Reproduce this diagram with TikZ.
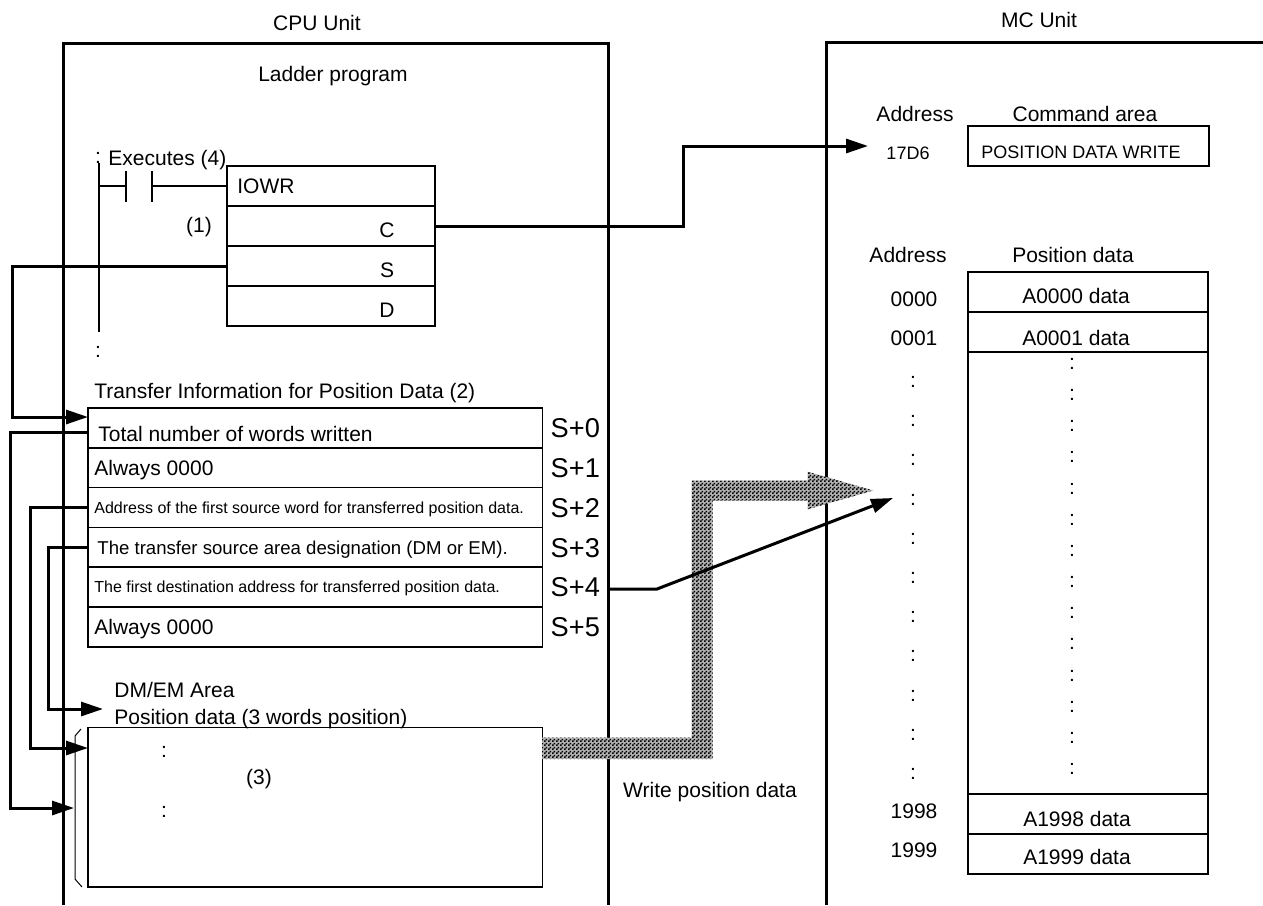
\documentclass[tikz,border=0pt]{standalone}
\usepackage{fontspec}
\setmainfont{Liberation Sans}
\usetikzlibrary{arrows.meta,patterns,positioning,calc}

% dotted grey fill of the transfer arrow
\pgfdeclarepatternformonly{dither}{\pgfpointorigin}{\pgfqpoint{2pt}{2pt}}{\pgfqpoint{2pt}{2pt}}{%
  \pgfpathrectangle{\pgfpointorigin}{\pgfqpoint{1pt}{1pt}}%
  \pgfpathrectangle{\pgfqpoint{1pt}{1pt}}{\pgfqpoint{1pt}{1pt}}%
  \pgfusepath{fill}}

\tikzset{
  unitline/.style={line width=1.5pt},
  wire/.style={line width=1.5pt},
  wirearrow/.style={wire, -{Triangle[length=11pt,width=7pt]}},
  rung/.style={line width=0.7pt},
  cell/.style={draw, line width=0.8pt, inner sep=0pt, outer sep=0pt},
  lbl/.style={inner sep=0pt, text height=7.5pt, text depth=0pt, font=\fontsize{10.5}{12}\selectfont},
  smalllbl/.style={lbl, text height=6.4pt, font=\fontsize{9}{10}\selectfont},
  tinylbl/.style={lbl, text height=5.7pt, font=\fontsize{8}{9}\selectfont},
  midlbl/.style={lbl, text height=6.7pt, font=\fontsize{9.3}{10}\selectfont},
  offlbl/.style={lbl, text height=9.8pt, font=\fontsize{13.6}{15}\selectfont},
}

\begin{document}
\begin{tikzpicture}[x=0.5pt,y=-0.5pt]
  \useasboundingbox (0,0) rectangle (1263,905);

  % Units
  \node[lbl] (cpuname) at (317,23) {CPU Unit};
  \node[lbl] (mcname) at (1039,20) {MC Unit};
  \draw[unitline] (63,905) |- (608,43) -- (608,905);
  \draw[unitline] (826,905) |- (1263,42);

  % Ladder program
  \node[lbl] (ladder) at (333,74) {Ladder program};
  \node[cell, minimum width=104pt, minimum height=20pt, anchor=north west] (io0) at (227,166) {};
  \foreach \i [count=\j from 0] in {1,2,3}
    \node[cell, minimum width=104pt, minimum height=20pt, below=0pt of io\j] (io\i) {};
  \node[lbl, anchor=west] (iowr) at ($(io0.west)+(10,0)$) {IOWR};
  \foreach \i/\t in {1/C,2/S,3/D}
    \node[lbl] (op\t) at ($(io\i.center)+(56,4)$) {\t};

  \draw[rung] (99,163) -- (99,332);
  \node[lbl] (railtop) at (98,156) {:};
  \node[lbl] (railend) at (98,350) {:};
  \node[lbl, anchor=west] (exec) at (108,158) {Executes (4)};
  \draw[rung] (99,186) -- (126,186) (126,171) -- (126,202) (152,171) -- (152,202);
  \draw[rung] (152,186) -- (io0.west);
  \node[lbl] (one) at (199,225) {(1)};

  % Transfer information
  \node[lbl, anchor=west] (xfer) at (94,391) {Transfer Information for Position Data (2)};
  \node[cell, minimum width=227.3pt, minimum height=19.9pt, anchor=north west] (t0) at (88,408) {};
  \foreach \i [count=\j from 0] in {1,...,5}
    \node[cell, minimum width=227.3pt, minimum height=19.9pt, below=0pt of t\j] (t\i) {};
  \node[lbl, anchor=west] (w0) at ($(t0.west)+(10,6)$) {Total number of words written};
  \node[lbl, anchor=west] (w1) at ($(t1.west)+(6,0)$) {Always 0000};
  \node[tinylbl, anchor=west] (w2) at ($(t2.west)+(6,0)$) {Address of the first source word for transferred position data.};
  \node[midlbl, anchor=west] (w3) at ($(t3.west)+(9,0)$) {The transfer source area designation (DM or EM).};
  \node[tinylbl, anchor=west] (w4) at ($(t4.west)+(6,0)$) {The first destination address for transferred position data.};
  \node[lbl, anchor=west] (w5) at ($(t5.west)+(6,0)$) {Always 0000};
  \foreach \i in {0,...,5}
    \node[offlbl] (s\i) at ($(t\i.center)+(260,0)$) {S+\i};

  % DM/EM area
  \node[lbl, anchor=west] (dmname) at (114,690) {DM/EM Area};
  \node[lbl, anchor=west] (dmdata) at (114,717) {Position data (3 words position)};
  \node[cell, minimum width=227.3pt, minimum height=79.7pt, anchor=north west] (dm) at (88,727.3) {};
  \node[lbl] (dmdot1) at (164,750) {:};
  \node[lbl] (three) at (259,777) {(3)};
  \node[lbl] (dmdot2) at (164,810) {:};
  \draw[line width=0.5pt] (81,729) -- (75,736) -- (75,879) -- (82,887);

  % Transfer arrow
  \path[fill=black!30, postaction={pattern=dither}] (542,737.7) -- (691.7,737.7) -- (691.7,480.7) -- (807.7,480.7)
    -- (807.7,471.7) -- (873.3,490.5) -- (807.7,509.3) -- (807.7,500.7) -- (712.7,500.7)
    -- (712.7,759) -- (542,759) -- cycle;
  \node[lbl] (wrlbl) at (710,790) {Write position data};

  % Connectors
  \coordinate (sin) at (88,417);
  \draw[wirearrow] (io2.west) -| (12,417) -- (sin);
  \coordinate (t0out) at (88,432);
  \coordinate (brk) at (74,808);
  \draw[wirearrow] (t0out) -| (10,808) -- (brk);
  \coordinate (dmin) at (88,748);
  \draw[wirearrow] (t2.west) -| (30,748) -- (dmin);
  \coordinate (dmlbl) at (103,709);
  \draw[wirearrow] (t3.west) -| (48,709) -- (dmlbl);
  \coordinate (cmdin) at (868,146);
  \draw[wirearrow] (io1.east) -| (683,146) -- (cmdin);
  \coordinate (s4out) at (608,589);
  \coordinate (dstcolon) at (893,498);
  \draw[wirearrow] (s4out) -- (657,589) -- (dstcolon);

  % MC Unit: command area
  \node[lbl] (adrhead) at (915,114) {Address};
  \node[lbl] (cmdhead) at (1085,114) {Command area};
  \node[cell, minimum width=120.5pt, minimum height=20pt, anchor=north west] (cmd) at (968,126) {};
  \node[smalllbl] (cmdtxt) at (1081,152) {POSITION DATA WRITE};
  \node[smalllbl] (cmdadr) at (908,153) {17D6};

  % MC Unit: position data
  \node[lbl] (adrhead2) at (908,255) {Address};
  \node[lbl] (pdhead) at (1073,255) {Position data};
  \node[cell, minimum width=120pt, minimum height=20pt, anchor=north west] (pd0) at (968,271.7) {};
  \node[cell, minimum width=120pt, minimum height=20pt, below=0pt of pd0] (pd1) {};
  \node[cell, minimum width=120pt, minimum height=221.15pt, below=0pt of pd1] (pdmid) {};
  \node[cell, minimum width=120pt, minimum height=20pt, below=0pt of pdmid] (pd98) {};
  \node[cell, minimum width=120pt, minimum height=20pt, below=0pt of pd98] (pd99) {};
  \node[lbl] (d0) at (1076,296) {A0000 data};
  \node[lbl] (d1) at (1076,338) {A0001 data};
  \node[lbl] (d98) at (1077,819) {A1998 data};
  \node[lbl] (d99) at (1077,857) {A1999 data};
  \node[lbl] (a0) at (914,299) {0000};
  \node[lbl] (a1) at (914,338) {0001};
  \node[lbl] (a98) at (914,811) {1998};
  \node[lbl] (a99) at (914,850) {1999};
  \foreach \k in {0,...,10}
    \node[lbl] at (913,{380+39.2*\k}) {:};
  \foreach \k in {0,...,13}
    \node[lbl] at (1072,{362+31.15*\k}) {:};
\end{tikzpicture}
\end{document}
